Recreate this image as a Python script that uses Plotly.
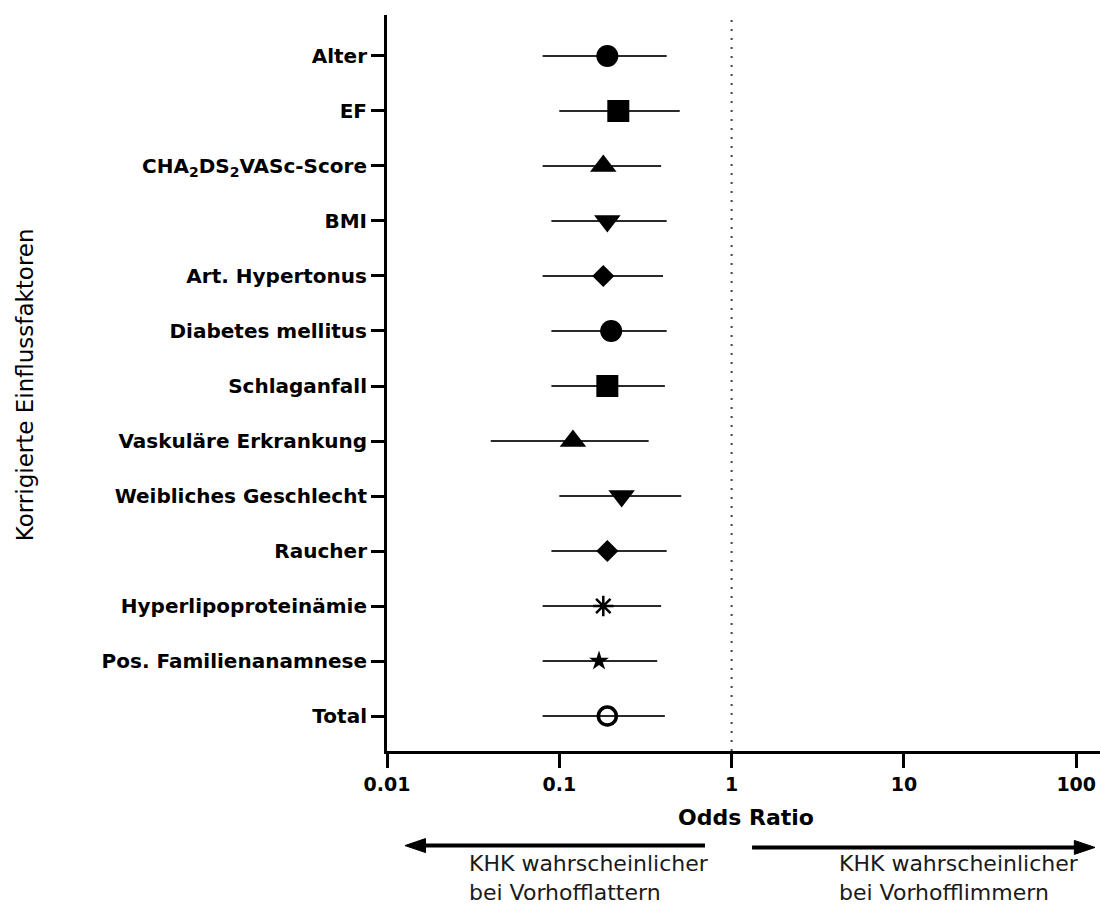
import plotly.graph_objects as go

# ---- data ----
categories = [
    "Alter", "EF", "CHA<sub>2</sub>DS<sub>2</sub>VASc-Score", "BMI",
    "Art. Hypertonus", "Diabetes mellitus", "Schlaganfall",
    "Vaskuläre Erkrankung", "Weibliches Geschlecht", "Raucher",
    "Hyperlipoproteinämie", "Pos. Familienanamnese", "Total",
]
odds_ratio = [0.19, 0.22, 0.18, 0.19, 0.18, 0.20, 0.19, 0.12, 0.23, 0.19, 0.18, 0.17, 0.19]
ci_low = [0.08, 0.10, 0.08, 0.09, 0.08, 0.09, 0.09, 0.04, 0.10, 0.09, 0.08, 0.08, 0.08]
ci_high = [0.42, 0.50, 0.39, 0.42, 0.40, 0.42, 0.41, 0.33, 0.51, 0.42, 0.39, 0.37, 0.41]
symbols = ["circle", "square", "triangle-up", "triangle-down", "diamond", "circle",
           "square", "triangle-up", "triangle-down", "diamond", "asterisk-open", "star",
           "circle-open"]
x_tick_vals = [0.01, 0.1, 1, 10, 100]
x_tick_text = ["0.01", "0.1", "1", "10", "100"]

# ---- styling ----
size_map = {"circle": 22, "square": 22, "triangle-up": 23, "triangle-down": 23,
            "diamond": 17, "asterisk-open": 17, "star": 15, "circle-open": 18}
FONT = "DejaVu Sans"

fig = go.Figure()
for i, (cat, orv, lo, hi, sym) in enumerate(zip(categories, odds_ratio, ci_low, ci_high, symbols)):
    if sym == "asterisk-open":
        mline = dict(color="black", width=2.5)
    elif sym == "circle-open":
        mline = dict(color="black", width=3.5)
    else:
        mline = dict(width=0)
    fig.add_trace(go.Scatter(
        x=[orv], y=[i], mode="markers",
        marker=dict(symbol=sym, size=size_map[sym], color="black", line=mline),
        error_x=dict(type="data", symmetric=False, array=[hi - orv], arrayminus=[orv - lo],
                     color="#2a2a2a", thickness=2, width=0),
        showlegend=False, name=cat,
    ))

# reference line at OR = 1
fig.add_shape(type="line", xref="x", yref="paper", x0=1, x1=1, y0=0, y1=0.997,
              line=dict(color="#444", width=2, dash="2px,7px"))

# direction arrows below the axis (paper coords: plot area 713 x 736 px)
ARROW_Y_L = -0.1285
ARROW_Y_R = -0.131
fig.add_shape(type="line", xref="paper", yref="paper", x0=0.05, x1=0.446,
              y0=ARROW_Y_L, y1=ARROW_Y_L, line=dict(color="black", width=4))
fig.add_shape(type="path", xref="paper", yref="paper",
              path=f"M 0.0252 {ARROW_Y_L} L 0.054 {ARROW_Y_L + 0.0095} L 0.054 {ARROW_Y_L - 0.0095} Z",
              fillcolor="black", line=dict(color="black", width=1))
fig.add_shape(type="line", xref="paper", yref="paper", x0=0.512, x1=0.968,
              y0=ARROW_Y_R, y1=ARROW_Y_R, line=dict(color="black", width=4))
fig.add_shape(type="path", xref="paper", yref="paper",
              path=f"M 0.993 {ARROW_Y_R} L 0.964 {ARROW_Y_R + 0.0095} L 0.964 {ARROW_Y_R - 0.0095} Z",
              fillcolor="black", line=dict(color="black", width=1))

n = len(categories)
fig.update_layout(
    width=1100, height=906,
    margin=dict(l=387, r=0, t=15, b=155),
    paper_bgcolor="white", plot_bgcolor="white",
    font=dict(family=FONT, color="black"),
    xaxis=dict(
        type="log", range=[-2, 2.138],
        tickvals=x_tick_vals, ticktext=x_tick_text,
        showgrid=False, zeroline=False,
        showline=True, linecolor="black", linewidth=3,
        ticks="outside", ticklen=14, tickwidth=3, tickcolor="black",
        tickfont=dict(family=FONT, size=19, color="black", weight="bold"),
    ),
    yaxis=dict(
        range=[n - 1 + 0.636, -0.745],
        tickvals=list(range(n)), ticktext=categories,
        showgrid=False, zeroline=False,
        showline=True, linecolor="black", linewidth=3,
        ticks="outside", ticklen=13, tickwidth=3, tickcolor="black",
        tickfont=dict(family=FONT, size=20, color="black", weight="bold"),
    ),
)

# axis titles
fig.add_annotation(text="Odds Ratio", xref="paper", yref="paper", x=0.5035, y=-0.0897,
                   xanchor="center", yanchor="middle", showarrow=False,
                   font=dict(family=FONT, size=22, color="black", weight="bold"))
fig.add_annotation(text="Korrigierte Einflussfaktoren", xref="paper", yref="paper",
                   x=-0.5077, y=0.497, xanchor="center", yanchor="middle", textangle=-90,
                   showarrow=False, font=dict(family=FONT, size=23, color="black"))

fig.add_annotation(text="KHK wahrscheinlicher<br>bei Vorhofflattern", xref="paper", yref="paper",
                   x=0.1122, y=-0.1325, xanchor="left", yanchor="top", align="left",
                   showarrow=False, font=dict(family=FONT, size=22, color="#1a1a1a"))
fig.add_annotation(text="KHK wahrscheinlicher<br>bei Vorhofflimmern", xref="paper", yref="paper",
                   x=0.631, y=-0.1325, xanchor="left", yanchor="top", align="left",
                   showarrow=False, font=dict(family=FONT, size=22, color="#1a1a1a"))

fig.write_html("out.html", config={"displayModeBar": False})

# remove the default page margin so the figure sits at the window's top-left corner
with open("out.html", "r", encoding="utf-8") as f:
    html = f.read()
html = html.replace("<head>", "<head><style>html,body{margin:0;padding:0;overflow:hidden;}</style>", 1)
with open("out.html", "w", encoding="utf-8") as f:
    f.write(html)
